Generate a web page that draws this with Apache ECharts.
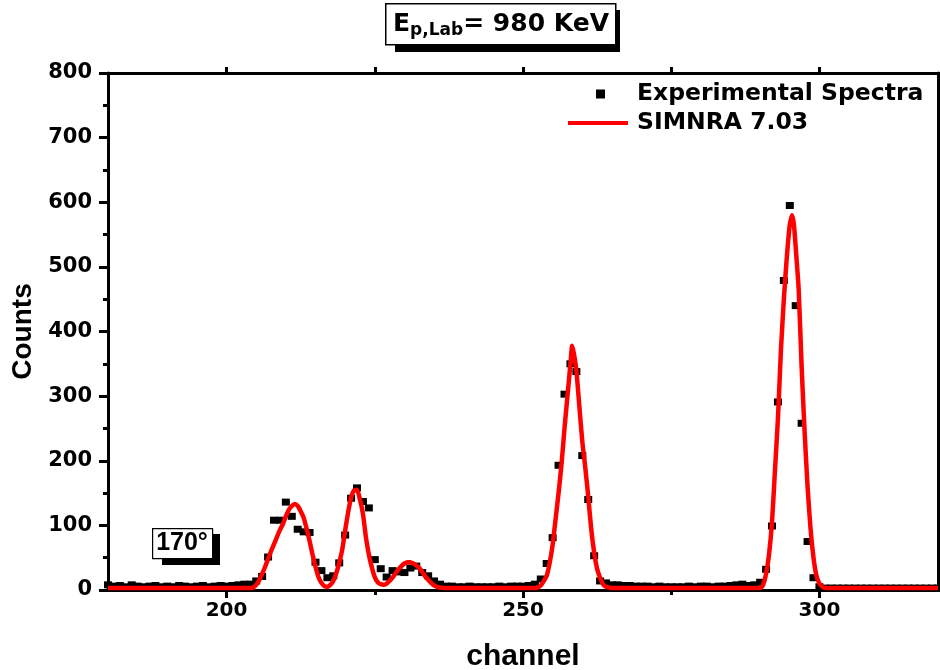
<!DOCTYPE html>
<html>
<head>
<meta charset="utf-8">
<script src="https://cdn.jsdelivr.net/npm/echarts@6/dist/echarts.min.js"></script>
<style>
  html, body { margin: 0; padding: 0; background: #fff; overflow: hidden; }
  #chart { width: 940px; height: 670px; }
</style>
</head>
<body>
<div id="chart"></div>
<script>
// experimental spectrum, one value per channel starting at 180
const expStart = 180
const expCounts = [
  8, 6, 7, 5, 8, 6, 5, 6, 7, 5, 6, 5, 7, 6, 5, 6, 7, 5, 6, 7, 6, 7, 8, 9,           // 180-203
  9, 14, 21, 51, 108, 108, 136, 114, 94, 90, 89, 43, 30, 19, 22, 42, 85,           // 204-220
  142, 158, 137, 127, 47, 33, 20, 30, 28, 27, 34, 37, 27, 22, 14, 9, 6,            // 221-237
  6, 5, 5, 6, 5, 5, 5, 5, 6, 5, 6, 6,                                              // 238-249
  6, 7, 9, 17, 41, 81, 193, 303, 350, 338, 208, 140, 53, 14, 11, 8,                // 250-265
  8, 7, 7, 6, 6, 6, 5, 6, 5, 5, 5, 5, 6, 5, 6, 6, 5, 6, 6, 7, 8, 9,                // 266-287
  7, 8, 12, 32, 99, 291, 479, 595, 440, 258, 75, 19, 5,                            // 288-300
  3, 3, 3, 3, 3, 3, 3, 3, 3, 3, 3, 3, 3, 3, 3, 3, 3, 3, 3, 3                       // 301-320
]

// SIMNRA simulation
const simChannel = [
  180, 203, 204, 204.5, 205, 205.5, 206, 206.5, 207, 207.5, 208, 208.5, 209, 209.5,
  210, 210.5, 211, 211.5, 212, 212.5, 213, 213.5, 214, 214.5, 215, 215.5, 216, 216.5,
  217, 217.5, 218, 218.5, 219, 219.5, 220, 220.5, 221, 221.5, 222, 222.5, 223, 223.5,
  224, 224.5, 225, 225.5, 226, 226.5, 227, 227.5, 228, 228.5, 229, 229.5, 230, 230.5,
  231, 231.5, 232, 232.5, 233, 233.5, 234, 234.5, 235, 235.5, 236, 237, 238,
  252, 252.5, 253, 253.5, 254, 254.5, 255, 255.5, 256, 256.5, 257, 257.5, 258, 258.3,
  258.6, 259, 259.5, 260, 260.5, 261, 261.5, 262, 262.5, 263, 263.5, 264, 264.5, 265, 266,
  290, 290.5, 291, 291.5, 292, 292.5, 293, 293.5, 294, 294.5, 295, 295.4,
  295.7, 296, 296.5, 297, 297.5, 298, 298.5, 299, 299.5, 300, 300.5, 301, 302, 320
]
const simCounts = [
  3, 3, 3, 4, 8, 15, 25, 36, 48, 60, 71, 82, 93, 102,
  114, 124, 130, 133, 130, 122, 112, 95, 76, 55, 36, 20, 11, 6,
  5, 8, 14, 26, 42, 62, 92, 120, 143, 154, 155, 140, 118, 82,
  55, 35, 20, 12, 9, 8, 10, 14, 19, 26, 32, 37, 41, 43,
  43, 41, 38, 34, 28, 21, 16, 11, 7, 5, 4, 3, 3,
  3, 4, 7, 14, 22, 42, 70, 110, 150, 195, 250, 300, 350, 378,
  365, 340, 285, 230, 190, 145, 95, 58, 33, 19, 9, 5, 4, 3, 3,
  3, 8, 25, 55, 105, 185, 265, 370, 450, 515, 565, 580,
  565, 530, 465, 345, 245, 160, 95, 50, 22, 10, 5, 3, 3, 3
]

const xMajor = [200, 250, 300]
const xMinor = [225, 275]
const xTopTicks = [200, 225, 250, 275, 300]

const titleText = '{e|E}{s|p,Lab}{e|= 980 KeV}'
const angleText = '170°'

const arial = '"Liberation Sans", Arial, sans-serif'
const wide = '"DejaVu Sans", sans-serif'

const chart = echarts.init(document.getElementById('chart'), null, { renderer: 'canvas' })

const expData = expCounts.map((v, i) => [expStart + i, v])
const simData = simChannel.map((c, i) => [c, simCounts[i]])

const legendText = { fontFamily: wide, fontWeight: 'bold', fontSize: 23.5, color: '#000' }

const option = {
  animation: false,
  backgroundColor: '#fff',
  grid: { left: 108, right: 2, top: 73, bottom: 80, outerBoundsMode: 'none' },
  legend: [
    {
      left: 591, top: 77,
      itemWidth: 9, itemHeight: 9,
      textStyle: { ...legendText, padding: [0, 0, 0, 27] },
      data: [{ name: 'Experimental Spectra', icon: 'rect' }]
    },
    {
      left: 563, top: 106,
      itemWidth: 60, itemHeight: 4,
      textStyle: { ...legendText, padding: [0, 0, 0, 4] },
      data: [{ name: 'SIMNRA 7.03', icon: 'rect' }]
    }
  ],
  xAxis: [
    {
      type: 'value', min: 180, max: 320, position: 'bottom',
      axisLine: { show: true, onZero: false, lineStyle: { color: '#000', width: 3 } },
      axisTick: { show: true, customValues: xMajor, length: 8, lineStyle: { color: '#000', width: 3 } },
      axisLabel: { customValues: xMajor, margin: 11, color: '#000', fontFamily: wide, fontWeight: 'bold', fontSize: 20 },
      splitLine: { show: false },
      name: 'channel', nameLocation: 'middle', nameGap: 52,
      nameTextStyle: { fontFamily: arial, fontWeight: 'bold', fontSize: 30, color: '#000' }
    },
    {
      type: 'value', min: 180, max: 320, position: 'bottom',
      axisLine: { show: false },
      axisTick: { show: true, customValues: xMinor, length: 5, lineStyle: { color: '#000', width: 3 } },
      axisLabel: { show: false },
      splitLine: { show: false }
    },
    {
      type: 'value', min: 180, max: 320, position: 'top',
      axisLine: { show: true, onZero: false, lineStyle: { color: '#000', width: 3 } },
      axisTick: { show: true, customValues: xTopTicks, length: 6, lineStyle: { color: '#000', width: 3 } },
      axisLabel: { show: false },
      splitLine: { show: false }
    }
  ],
  yAxis: [
    {
      type: 'value', min: 0, max: 800, interval: 100, position: 'left',
      axisLine: { show: true, onZero: false, lineStyle: { color: '#000', width: 3 } },
      axisTick: { show: true, length: 9, lineStyle: { color: '#000', width: 3 } },
      minorTick: { show: true, splitNumber: 2, length: 5, lineStyle: { color: '#000', width: 3 } },
      axisLabel: { margin: 16, color: '#000', fontFamily: wide, fontWeight: 'bold', fontSize: 21 },
      splitLine: { show: false },
      name: 'Counts', nameLocation: 'middle', nameGap: 70,
      nameTextStyle: { fontFamily: arial, fontWeight: 'bold', fontSize: 28, color: '#000' }
    },
    {
      type: 'value', min: 0, max: 800, interval: 100, position: 'right',
      axisLine: { show: true, onZero: false, lineStyle: { color: '#000', width: 3 } },
      axisTick: { show: true, length: 5, lineStyle: { color: '#000', width: 3 } },
      minorTick: { show: true, splitNumber: 2, length: 3, lineStyle: { color: '#000', width: 3 } },
      axisLabel: { show: false },
      splitLine: { show: false }
    }
  ],
  series: [
    {
      name: 'Experimental Spectra',
      type: 'scatter',
      symbol: 'rect',
      symbolSize: [8, 7],
      itemStyle: { color: '#000', opacity: 1 },
      data: expData
    },
    {
      name: 'SIMNRA 7.03',
      type: 'line',
      symbol: 'none',
      smooth: 0.2,
      lineStyle: { color: '#ff0000', width: 4.5 },
      itemStyle: { color: '#ff0000' },
      data: simData
    }
  ],
  graphic: [
    // title box with drop shadow
    { type: 'rect', left: 395, top: 10, shape: { width: 225, height: 42 }, style: { fill: '#000' } },
    { type: 'rect', left: 385, top: 3, shape: { width: 230, height: 41 }, style: { fill: '#fff', stroke: '#000', lineWidth: 1.5 } },
    {
      type: 'text', x: 501, y: 24,
      style: {
        text: titleText, align: 'center', verticalAlign: 'middle',
        rich: {
          e: { fontFamily: wide, fontWeight: 'bold', fontSize: 25, fill: '#000' },
          s: { fontFamily: wide, fontWeight: 'bold', fontSize: 17, fill: '#000', padding: [14, 0, 0, 0] }
        }
      }
    },
    // angle label box
    { type: 'rect', left: 162, top: 534, shape: { width: 58, height: 31 }, style: { fill: '#000' } },
    { type: 'rect', left: 152, top: 528, shape: { width: 60, height: 30 }, style: { fill: '#fff', stroke: '#000', lineWidth: 1.2 } },
    {
      type: 'text', x: 182, y: 543,
      style: { text: angleText, align: 'center', verticalAlign: 'middle', fontFamily: arial, fontWeight: 'bold', fontSize: 25, fill: '#000' }
    }
  ]
}

chart.setOption(option)
</script>
</body>
</html>
